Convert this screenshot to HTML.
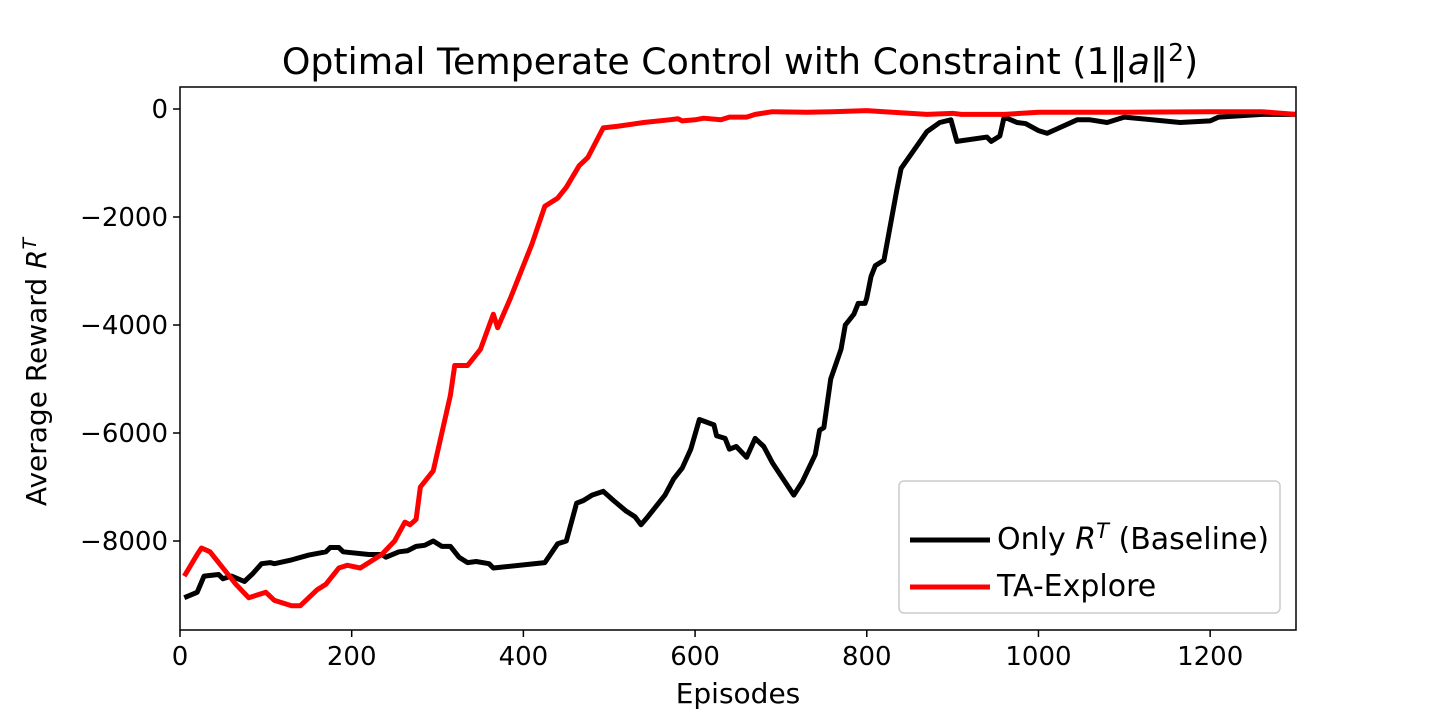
<!DOCTYPE html>
<html><head><meta charset="utf-8"><style>
body{margin:0;background:#fff;}
svg text{font-family:"DejaVu Sans","Liberation Sans",sans-serif;fill:#000;}
</style></head><body>
<svg id="chart" width="1440" height="720" xmlns="http://www.w3.org/2000/svg">
<text x="740" y="74" font-size="36.3" text-anchor="middle">Optimal Temperate Control with Constraint (1‖<tspan font-style="italic">a</tspan>‖<tspan dy="-13" font-size="25">2</tspan><tspan dy="13">)</tspan></text>
<g id="plot"></g>
<text x="738" y="703" font-size="28" text-anchor="middle">Episodes</text>
<text transform="translate(46,372) rotate(-90)" font-size="28" text-anchor="middle">Average Reward <tspan font-style="italic">R</tspan><tspan dy="-10" font-size="19" font-style="italic">T</tspan></text>
<g>
<rect x="899" y="481" width="381" height="132" rx="5" fill="#fff" stroke="#ccc" stroke-width="1.5"/>
<line x1="910" y1="540" x2="990" y2="540" stroke="#000" stroke-width="5"/>
<text x="997" y="549" font-size="30">Only <tspan font-style="italic">R</tspan><tspan dy="-11" font-size="21" font-style="italic">T</tspan><tspan dy="11"> (Baseline)</tspan></text>
<line x1="910" y1="587" x2="990" y2="587" stroke="#f00" stroke-width="5"/>
<text x="997" y="596" font-size="30">TA-Explore</text>
</g>
</svg>
<script>
const xTicks=[0,200,400,600,800,1000,1200];
const yTicks=[0,-2000,-4000,-6000,-8000];
const baselineX=[5,20,28,45,50,60,75,85,95,105,110,130,150,170,175,185,190,220,235,240,255,265,275,285,295,305,315,325,335,345,360,365,425,440,450,462,470,480,493,505,520,530,537,545,565,575,585,595,605,622,625,635,640,648,660,670,680,690,715,725,740,745,750,758,770,775,785,790,798,800,805,810,820,835,840,870,885,898,905,940,945,955,960,975,985,1000,1010,1020,1045,1060,1080,1100,1165,1200,1210,1260,1300];
const baselineY=[-9050,-8950,-8650,-8620,-8700,-8650,-8750,-8600,-8420,-8400,-8420,-8350,-8260,-8200,-8120,-8120,-8200,-8250,-8250,-8300,-8200,-8180,-8100,-8080,-8000,-8100,-8100,-8300,-8400,-8380,-8420,-8500,-8400,-8050,-8000,-7300,-7250,-7150,-7080,-7250,-7450,-7550,-7700,-7550,-7150,-6850,-6650,-6300,-5750,-5850,-6050,-6100,-6300,-6250,-6450,-6100,-6250,-6550,-7150,-6900,-6400,-5950,-5900,-5000,-4450,-4000,-3800,-3600,-3600,-3500,-3100,-2900,-2800,-1500,-1100,-420,-250,-200,-600,-520,-600,-500,-150,-250,-270,-400,-450,-380,-200,-200,-250,-150,-250,-220,-150,-100,-100];
const taX=[5,20,25,35,50,65,80,100,110,130,140,160,170,185,195,210,235,250,262,268,275,280,295,305,315,320,335,350,365,370,385,410,425,440,450,465,475,493,510,540,570,580,585,600,610,630,640,660,670,690,730,760,800,830,870,900,910,960,1000,1100,1200,1260,1300];
const taY=[-8650,-8250,-8130,-8200,-8500,-8800,-9050,-8950,-9100,-9200,-9200,-8900,-8800,-8500,-8450,-8500,-8250,-8000,-7650,-7700,-7600,-7000,-6700,-6000,-5300,-4750,-4750,-4450,-3800,-4050,-3500,-2500,-1800,-1650,-1450,-1050,-900,-350,-320,-250,-200,-180,-220,-200,-170,-200,-150,-150,-100,-50,-60,-50,-30,-60,-100,-80,-100,-100,-60,-60,-50,-50,-100];
const L=180,R=1296,T=87,B=630;
const xs=v=>L+(v/1300)*(R-L);
const ys=v=>109-v*0.054;
const NS="http://www.w3.org/2000/svg";
const g=document.getElementById('plot');
function mk(t,a){const e=document.createElementNS(NS,t);for(const k in a)e.setAttribute(k,a[k]);return e;}
const cp=mk('clipPath',{id:'clip'});cp.appendChild(mk('rect',{x:L,y:T,width:R-L,height:B-T}));g.appendChild(cp);
function series(X,Y,c,n){const p=mk('polyline',{points:X.map((x,i)=>xs(x)+','+ys(Y[i])).join(' '),fill:'none',stroke:c,'stroke-width':5,'stroke-linejoin':'round','clip-path':'url(#clip)'});


g.appendChild(p);}
series(baselineX,baselineY,'#000','baseline-line');
series(taX,taY,'#f00','ta-explore-line');
const fr=mk('rect',{x:L,y:T,width:R-L,height:B-T,fill:'none',stroke:'#000','stroke-width':1.5});


g.appendChild(fr);
xTicks.forEach(v=>{const x=xs(v);
const t=mk('line',{x1:x,y1:B,x2:x,y2:B+7,stroke:'#000','stroke-width':1.5});


g.appendChild(t);
const l=mk('text',{x:x,y:B+35,'font-size':26,'text-anchor':'middle'});l.textContent=v;


g.appendChild(l);});
yTicks.forEach(v=>{const y=ys(v);
const t=mk('line',{x1:L-7,y1:y,x2:L,y2:y,stroke:'#000','stroke-width':1.5});


g.appendChild(t);
const l=mk('text',{x:L-12,y:y+9,'font-size':26,'text-anchor':'end'});l.textContent=v<0?'−'+(-v):v;


g.appendChild(l);});
</script>
</body></html>
